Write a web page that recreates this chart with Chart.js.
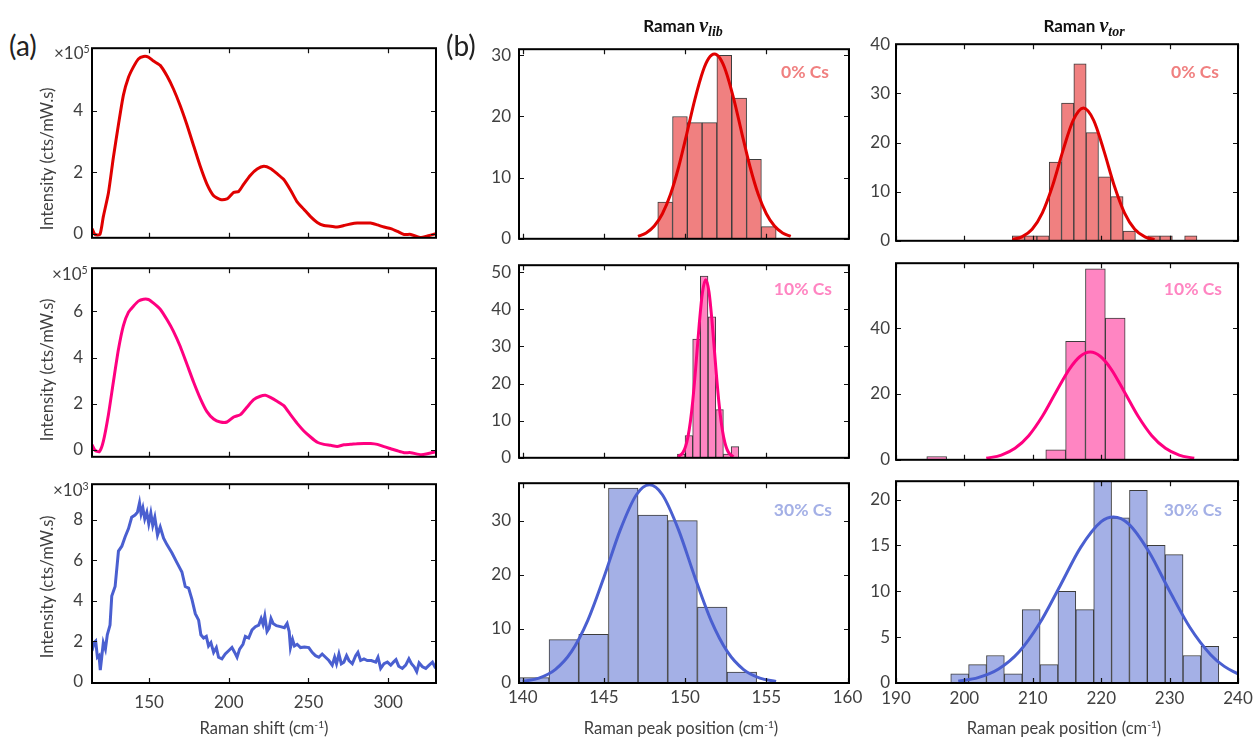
<!DOCTYPE html>
<html><head><meta charset="utf-8">
<script src="https://cdn.jsdelivr.net/npm/chart.js@4.4.0/dist/chart.umd.min.js"></script>
<style>
html,body{margin:0;padding:0;background:#fff;}
#fig{position:relative;width:1254px;height:738px;overflow:hidden;font-family:Lato,'Open Sans',sans-serif;color:#404040;background:#fff;}
canvas{position:absolute;}
.t{position:absolute;white-space:nowrap;line-height:1;}
sup{font-size:0.62em;vertical-align:0.55em;line-height:0;}
.nu{font-family:'Liberation Serif',serif;font-style:italic;font-weight:bold;font-size:20px;}
.nu sub{font-size:14px;vertical-align:-0.25em;line-height:0;}
</style></head><body><div id="fig"></div>
<script>
// ---------- (a) Raman spectra, x in cm-1 ----------
const specX0 = [114.2,116.1,119.2,121.3,124.5,127.6,130.8,133.9,137.1,140.2,143.3,146.5,149.6,152.8,157.0,161.2,165.3,169.5,173.7,177.9,182.1,186.3,190.5,194.7,198.9,201.0,203.1,206.2,209.4,213.6,217.8,222.0,226.1,230.3,234.5,238.7,242.9,247.1,251.3,255.5,259.7,263.9,268.0,272.2,276.4,280.6,284.8,289.0,293.2,297.4,301.6,305.8,310.0,314.2,320.5,324.6,329.9];
const specY0 = [0.16,-0.03,-0.03,0.55,1.32,2.48,3.55,4.51,5.09,5.43,5.69,5.77,5.75,5.62,5.48,5.14,4.71,4.17,3.55,2.87,2.19,1.61,1.23,1.11,1.13,1.23,1.34,1.37,1.61,1.90,2.10,2.19,2.12,1.95,1.76,1.42,1.03,0.79,0.55,0.36,0.26,0.24,0.21,0.26,0.31,0.34,0.34,0.34,0.28,0.21,0.16,0.07,-0.03,-0.03,-0.13,-0.08,-0.01];
const specX10 = [114.2,116.1,118.8,121.3,124.5,127.6,130.8,133.9,137.1,140.2,143.3,146.5,149.6,152.8,157.0,161.2,165.3,169.5,173.7,177.9,182.1,186.3,190.5,194.7,198.9,203.1,207.3,211.5,215.6,219.8,223.0,226.1,230.3,234.5,238.7,242.9,247.1,251.3,255.5,259.7,263.9,268.0,272.2,276.4,280.6,284.8,289.0,293.2,297.4,301.6,305.8,310.0,314.2,320.5,324.6,329.9];
const specY10 = [0.21,-0.03,-0.09,0.36,1.52,2.94,4.36,5.39,5.97,6.23,6.45,6.53,6.52,6.36,6.10,5.65,5.14,4.49,3.72,2.94,2.23,1.65,1.33,1.20,1.20,1.42,1.52,1.85,2.17,2.32,2.36,2.27,2.10,1.91,1.52,1.14,0.81,0.55,0.32,0.23,0.19,0.14,0.21,0.23,0.26,0.27,0.27,0.23,0.13,0.04,-0.05,-0.13,-0.13,-0.22,-0.18,-0.09];
const specX30 = [114.2,115.5,116.5,117.6,118.6,119.4,120.3,121.3,122.6,123.8,125.5,126.6,128.7,130.8,132.9,135.0,137.1,139.1,141.2,142.7,144.0,145.0,146.1,147.3,148.6,149.8,151.1,152.3,153.6,155.3,157.0,159.1,161.2,164.3,167.4,170.6,172.7,174.8,176.9,179.0,181.1,182.5,184.2,185.9,187.3,188.8,190.5,192.2,193.6,195.7,197.8,199.9,202.0,203.7,205.2,206.8,208.9,210.4,212.5,214.6,216.7,218.8,220.3,221.5,222.6,224.0,225.3,226.5,227.8,229.9,232.4,234.9,236.6,237.9,238.7,240.0,241.2,242.9,245.0,247.5,250.2,252.3,254.4,256.5,258.6,260.7,262.8,264.9,266.4,267.6,269.1,270.6,272.2,273.9,275.4,277.5,279.6,281.0,282.7,284.8,286.9,289.4,292.2,293.6,295.3,297.4,299.5,301.6,303.3,304.9,306.6,308.9,311.0,313.0,314.6,316.3,317.9,319.4,321.5,323.6,325.7,327.8,329.3,330.9];
const specY30 = [1.54,1.94,2.02,1.22,1.30,0.59,1.22,1.94,1.62,2.33,2.81,4.24,4.71,6.46,6.70,7.17,7.57,8.13,8.24,8.37,8.84,8.29,8.60,8.05,8.37,7.81,8.33,7.73,8.13,7.25,7.65,7.10,6.78,6.38,5.90,5.43,4.71,4.63,4.08,3.37,3.05,2.33,2.17,2.25,1.78,1.94,1.46,1.70,1.22,1.14,1.38,1.54,1.70,1.46,1.22,1.62,1.86,2.25,2.17,2.57,2.73,2.81,3.13,2.84,3.25,2.49,2.65,3.13,2.89,2.78,2.73,2.68,2.89,2.49,1.70,2.10,1.78,1.86,1.70,1.73,1.70,1.46,1.30,1.22,1.38,1.22,1.06,0.83,1.22,0.90,1.38,0.90,0.98,1.30,1.06,0.90,1.30,1.46,1.06,1.14,1.06,1.06,0.98,1.22,0.67,0.90,0.98,0.83,0.98,1.10,0.78,0.67,0.83,1.14,0.90,0.75,0.51,0.94,0.75,0.67,0.83,0.98,0.75,0.83];
const specXTicks = [150,200,250,300];
const specYTicks0 = [0,2,4];
const specYTicks10 = [0,2,4,6];
const specYTicks30 = [0,2,4,6,8];

// ---------- (b) histograms: Raman nu_lib ----------
const libBins0 = [148.77,149.68,150.59,151.50,152.41,153.33,154.24,155.15];
const libCounts0 = [6,20,19,19,30,23,13,2];
const libFitX0 = [147.1,147.6,148.1,148.6,149.1,149.6,150.1,150.6,151.1,151.45,151.8,152.15,152.5,153.0,153.5,154.0,154.5,155.0,155.5,156.0,156.5];
const libFitY0 = [0.40,0.96,2.08,4.09,7.27,11.74,17.17,22.80,27.44,29.49,30.2,29.49,27.44,22.80,17.17,11.74,7.27,4.09,2.08,0.96,0.40];
const libBins10 = [149.76,150.23,150.70,151.17,151.65,152.12,152.59,153.07];
const libCounts10 = [1,6,32,49,38,13,1,3];
const libFitX10 = [149.57,149.87,150.02,150.17,150.32,150.47,150.67,150.87,151.07,151.27,151.47,151.67,151.87,152.07,152.22,152.37,152.52,152.67,152.97];
const libFitY10 = [0.28,1.47,2.98,5.57,9.63,15.36,25.29,36.10,44.70,48.0,44.70,36.10,25.29,15.36,9.63,5.57,2.98,1.47,0.28];
const libBins30 = [140.71,142.53,144.36,146.19,148.01,149.84,151.67,153.49];
const libCounts30 = [1,8,9,36,31,30,14,2];
const libFitX30 = [140.0,141.0,142.0,143.0,144.0,145.0,146.0,147.0,147.8,148.6,149.6,150.6,151.6,152.6,153.6,154.6,155.6];
const libFitY30 = [0.28,0.91,2.48,5.79,11.53,19.54,28.24,34.77,36.6,34.77,28.24,19.54,11.53,5.79,2.48,0.91,0.28];
const libXTicks = [140,145,150,155,160];
const libYTicks0 = [0,10,20,30];
const libYTicks10 = [0,10,20,30,40,50];
const libYTicks30 = [0,10,20,30];

// ---------- (b) histograms: Raman nu_tor ----------
const torBins0 = [207.9,209.7,211.5,213.3,215.1,216.9,218.7,220.5,222.3,224.1,225.9,227.7,229.5,231.3,233.1];
const torCounts0 = [1,1,1,16,28,36,22,13,9,2,0,1,1,0,1];
const torFitX0 = [207.0,208.4,209.9,211.4,212.9,214.4,215.9,217.4,218.9,220.4,221.9,223.4,224.9,226.4,227.8];
const torFitY0 = [0.25,0.81,2.37,5.69,11.25,18.30,24.50,27.0,24.50,18.30,11.25,5.69,2.37,0.81,0.25];
const torBins10 = [195.95,198.85,201.75,204.65,207.55,210.45,213.35,216.25,219.15,222.05];
const torCounts10 = [1,0,0,0,0,0,3,36,58,43];
const torFitX10 = [203.2,205.4,207.4,209.4,211.4,213.4,215.4,216.9,218.4,219.9,221.4,223.4,225.4,227.4,229.4,231.4,233.6];
const torFitY10 = [0.46,1.44,3.49,7.31,13.21,20.59,27.69,31.37,32.7,31.37,27.69,20.59,13.21,7.31,3.49,1.44,0.46];
const torBins30 = [199.31,201.92,204.53,207.15,209.76,212.37,214.98,217.60,220.21,222.82,225.44,228.05,230.66,233.27,235.89];
const torCounts30 = [1,2,3,1,8,2,10,8,22,18,21,15,14,3,4];
const torFitX30 = [199.1,202,205,208,211,214,217,220,221.8,224,227,230,233,236,238,240];
const torFitY30 = [0.20,0.58,1.52,3.40,6.51,10.61,14.79,17.59,18.1,17.35,14.28,10.03,6.02,3.09,1.81,0.99];
const torXTicks = [190,200,210,220,230,240];
const torYTicks0 = [0,10,20,30,40];
const torYTicks10 = [0,20,40];
const torYTicks30 = [0,5,10,15,20];

const RED='#e00000', PINK='#ff0080', BLUE='#4a5fd0';
const RED_F='#f08080', PINK_F='#ff85c2', BLUE_F='#a4b0e6';

const fig = document.getElementById('fig');
const pts = (xs, ys) => xs.map((x,i)=>({x:x, y:ys[i]}));

const framePlugin = {id:'frame', afterDatasetsDraw(ch){
  const {ctx, chartArea:a, scales} = ch;
  ctx.save();
  ctx.strokeStyle='#111'; ctx.lineWidth=1.2;
  ctx.beginPath();
  scales.y.ticks.forEach(t=>{const y=Math.round(scales.y.getPixelForValue(t.value))+0.5;
    ctx.moveTo(a.left,y); ctx.lineTo(a.left+5,y); ctx.moveTo(a.right,y); ctx.lineTo(a.right-5,y);});
  scales.x.ticks.forEach(t=>{const x=Math.round(scales.x.getPixelForValue(t.value))+0.5;
    ctx.moveTo(x,a.bottom); ctx.lineTo(x,a.bottom-5); ctx.moveTo(x,a.top); ctx.lineTo(x,a.top+5);});
  ctx.stroke();
  ctx.strokeStyle='#000'; ctx.lineWidth=2;
  ctx.strokeRect(a.left, a.top, a.right-a.left, a.bottom-a.top);
  ctx.restore();
}};

function panel(o){
  const lm=o.lm, bm=o.bm, tp=12, rp=22;
  const W=o.w+lm+rp, H=o.h+tp+bm;
  const c=document.createElement('canvas');
  c.width=W; c.height=H;
  c.style.left=(o.x-lm)+'px'; c.style.top=(o.y-tp)+'px';
  c.style.width=W+'px'; c.style.height=H+'px';
  fig.appendChild(c);
  const tf={family:'Lato', size:17};
  new Chart(c, {
    type:o.type,
    data:{datasets:o.datasets},
    options:{
      responsive:false, animation:false, devicePixelRatio:1,
      layout:{padding:{top:tp, right:rp, left:0, bottom:0}},
      plugins:{legend:{display:false}, tooltip:{enabled:false}},
      scales:{
        x:{type:'linear', min:o.xmin, max:o.xmax, offset:false,
           grid:{display:false, drawTicks:false, offset:false}, border:{display:false},
           ticks:{display:o.showX, font:tf, color:'#404040', padding:o.xpad, maxRotation:0, minRotation:0, autoSkip:false},
           afterBuildTicks:s=>{s.ticks=o.xticks.map(v=>({value:v}));},
           afterFit:s=>{s.height=bm;}},
        y:{type:'linear', min:o.ymin, max:o.ymax,
           grid:{display:false, drawTicks:false}, border:{display:false},
           ticks:{font:tf, color:'#404040', padding:o.ypad, autoSkip:false},
           afterBuildTicks:s=>{s.ticks=o.yticks.map(v=>({value:v}));},
           afterFit:s=>{s.width=lm;}}
      }
    },
    plugins:[framePlugin]
  });
}

function specPanel(xs, ys, color, geo, ymin, ymax, yticks, showX, tension){
  panel({type:'line', x:92, w:344, y:geo[0], h:geo[1], lm:44, bm: showX?34:4, xpad:9, ypad:9,
    xmin:114.2, xmax:330, ymin:ymin, ymax:ymax, xticks:specXTicks, yticks:yticks, showX:showX,
    datasets:[{data:pts(xs,ys), borderColor:color, borderWidth:3, pointRadius:0, tension:tension, fill:false}]});
}
function histPanel(bins, counts, fx, fy, line, fillc, geo, col, ymax, yticks, showX){
  const isLib = col===2;
  panel({type:'bar', x:isLib?519:896, w:isLib?330:342, y:geo[0], h:geo[1], lm:isLib?50:46, bm: showX?34:4,
    xpad:isLib?4:5, ypad:isLib?8:6,
    xmin:isLib?139.77:190, xmax:isLib?160.09:240, ymin:0, ymax:ymax,
    xticks:isLib?libXTicks:torXTicks, yticks:yticks, showX:showX,
    datasets:[
      {type:'line', order:0, data:pts(fx,fy), borderColor:line, borderWidth:3, pointRadius:0, tension:0.4, cubicInterpolationMode:'monotone', fill:false},
      {type:'bar', order:1, data:pts(bins,counts), backgroundColor:fillc, borderColor:'#3c3c3c', borderWidth:1, borderSkipped:false, barPercentage:1, categoryPercentage:1, grouped:false}
    ]});
}

specPanel(specX0, specY0, RED, [41,212], -0.14, 6.04, specYTicks0, false, 0.2);
specPanel(specX10, specY10, PINK, [261,211], -0.31, 7.88, specYTicks10, false, 0.2);
specPanel(specX30, specY30, BLUE, [477,206], -0.05, 9.76, specYTicks30, true, 0);

histPanel(libBins0, libCounts0, libFitX0, libFitY0, RED, RED_F, [43,210], 2, 31, libYTicks0, false);
histPanel(libBins10, libCounts10, libFitX10, libFitY10, PINK, PINK_F, [259,213], 2, 51.9, libYTicks10, false);
histPanel(libBins30, libCounts30, libFitX30, libFitY30, BLUE, BLUE_F, [477,206], 2, 36.9, libYTicks30, true);

histPanel(torBins0, torCounts0, torFitX0, torFitY0, RED, RED_F, [40,213], 3, 40, torYTicks0, false);
histPanel(torBins10, torCounts10, torFitX10, torFitY10, PINK, PINK_F, [259,213], 3, 59.7, torYTicks10, false);
histPanel(torBins30, torCounts30, torFitX30, torFitY30, BLUE, BLUE_F, [477,206], 3, 22, torYTicks30, true);

// ---------- texts ----------
function txt(html, x, y, style, tr){
  const d=document.createElement('div'); d.className='t'; d.innerHTML=html;
  d.style.left=x+'px'; d.style.top=y+'px';
  d.style.transform = tr || 'translate(-50%,-50%)';
  Object.assign(d.style, style||{});
  fig.appendChild(d);
}
txt('(a)', 9, 31, {fontSize:'28px', color:'#222'}, 'none');
txt('(b)', 446, 31, {fontSize:'28px', color:'#222'}, 'none');
txt('Raman <span class="nu">ν<sub>lib</sub></span>', 683, 25, {fontSize:'17px', fontWeight:'bold', color:'#111'});
txt('Raman <span class="nu">ν<sub>tor</sub></span>', 1084, 25, {fontSize:'17px', fontWeight:'bold', color:'#111'});
txt('×10<sup>5</sup>', 54, 44, {fontSize:'17px'}, 'none');
txt('×10<sup>5</sup>', 52, 265, {fontSize:'17px'}, 'none');
txt('×10<sup>3</sup>', 53, 481, {fontSize:'17px'}, 'none');
const rot='translate(-50%,-50%) rotate(-90deg)';
txt('Intensity (cts/mW.s)', 47, 159, {fontSize:'16.5px'}, rot);
txt('Intensity (cts/mW.s)', 47, 370, {fontSize:'16.5px'}, rot);
txt('Intensity (cts/mW.s)', 47, 587, {fontSize:'16.5px'}, rot);
txt('Raman shift (cm<sup>-1</sup>)', 264, 728, {fontSize:'16.5px'});
txt('Raman peak position (cm<sup>-1</sup>)', 681, 728, {fontSize:'16.5px'});
txt('Raman peak position (cm<sup>-1</sup>)', 1064, 728, {fontSize:'16.5px'});
const rt='translate(-100%,-50%)';
txt('0% Cs', 829, 72, {fontSize:'17.5px', fontWeight:'bold', color:RED_F}, rt);
txt('0% Cs', 1219, 72, {fontSize:'17.5px', fontWeight:'bold', color:RED_F}, rt);
txt('10% Cs', 832, 289, {fontSize:'17.5px', fontWeight:'bold', color:PINK_F}, rt);
txt('10% Cs', 1222, 289, {fontSize:'17.5px', fontWeight:'bold', color:PINK_F}, rt);
txt('30% Cs', 832, 510, {fontSize:'17.5px', fontWeight:'bold', color:BLUE_F}, rt);
txt('30% Cs', 1222, 510, {fontSize:'17.5px', fontWeight:'bold', color:BLUE_F}, rt);
</script></body></html>
